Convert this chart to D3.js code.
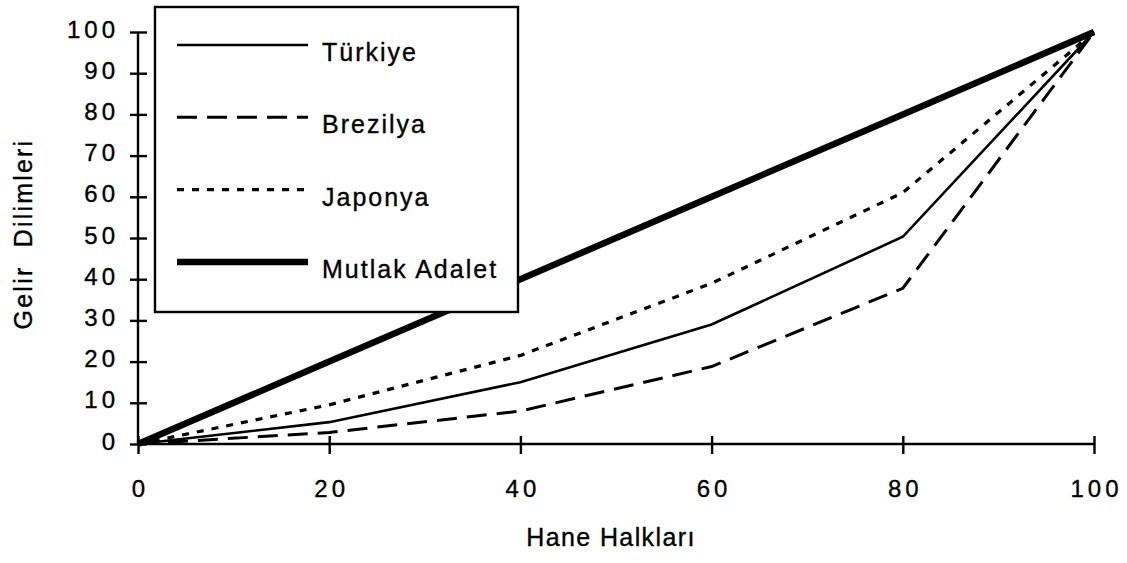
<!DOCTYPE html>
<html>
<head>
<meta charset="utf-8">
<script src="https://cdn.jsdelivr.net/npm/d3@7"></script>
<style>
  body { margin: 0; background: #fff; }
  text { font-family: "Liberation Sans", Arial, sans-serif; fill: #000; stroke: #000; stroke-width: 0.35px; }
</style>
</head>
<body>
<div id="vis"></div>
<script>
// veriler
var haneHalklari = [0, 20, 40, 60, 80, 100];
var turkiye  = [0, 5.3, 15, 29, 50.3, 100];
var brezilya = [0, 2.8, 8, 18.8, 37.8, 100];
var japonya  = [0, 9.5, 21.5, 39, 61, 100];
var mutlak   = [0, 20, 40, 60, 80, 100];
var seriler  = ["Türkiye", "Brezilya", "Japonya", "Mutlak Adalet"];
var xTicks = [0, 20, 40, 60, 80, 100];
var yTicks = [0, 10, 20, 30, 40, 50, 60, 70, 80, 90, 100];

var degerler = [turkiye, brezilya, japonya, mutlak];
var stil = [
  {w: 2.6, dash: null},
  {w: 3, dash: "20,10"},
  {w: 3.2, dash: "7,8"},
  {w: 6.5, dash: null}
];

var W = 1127, H = 563;
var x0 = 138, x1 = 1094, y0 = 444, y1 = 32;

var svg = d3.select("div#vis").append("svg")
  .attr("width", W)
  .attr("height", H);

var x = d3.scaleLinear().domain([0, 100]).range([x0, x1]);
var y = d3.scaleLinear().domain([0, 100]).range([y0, y1]);

var line = d3.line()
  .x(function(d, i) { return x(haneHalklari[i]); })
  .y(function(d) { return y(d); });

// seri cizgileri
svg.selectAll("path.seri").data(degerler).enter().append("path")
  .attr("class", "seri")
  .attr("d", line)
  .attr("fill", "none")
  .attr("stroke", "#000")
  .attr("stroke-width", function(d, i) { return stil[i].w; })
  .attr("stroke-dasharray", function(d, i) { return stil[i].dash; })
  .attr("stroke-linejoin", "miter");

// eksenler
var xAx = svg.append("g")
  .attr("transform", "translate(0," + y0 + ")")
  .call(d3.axisBottom(x).tickValues(xTicks).tickSize(0).tickPadding(0).tickFormat(""));
var yAx = svg.append("g")
  .attr("transform", "translate(" + x0 + ",0)")
  .call(d3.axisLeft(y).tickValues(yTicks).tickSize(0).tickPadding(0).tickFormat(""));

xAx.select(".domain").attr("stroke-width", 2.4).attr("d", "M" + x0 + ",0H" + x1);
yAx.select(".domain").attr("stroke-width", 2.4).attr("d", "M0," + y1 + "V" + y0);
xAx.selectAll(".tick line").attr("y1", -8).attr("y2", 10).attr("stroke-width", 2.4);
yAx.selectAll(".tick line").attr("x1", -8).attr("x2", 9).attr("stroke-width", 2.4);

xAx.selectAll(".tick").append("text")
  .attr("y", 53)
  .attr("text-anchor", "middle")
  .attr("dx", 2)
  .style("font-size", "24px")
  .style("letter-spacing", "4px")
  .text(function(d) { return d; });

yAx.selectAll(".tick").append("text")
  .attr("x", -19)
  .attr("y", 5)
  .attr("text-anchor", "end")
  .style("font-size", "24px")
  .style("letter-spacing", "4px")
  .text(function(d) { return d; });

// eksen basliklari
svg.append("text")
  .attr("x", 611).attr("y", 546)
  .attr("text-anchor", "middle")
  .style("font-size", "25px")
  .style("letter-spacing", "1.4px")
  .text("Hane Halkları");

svg.append("text")
  .attr("transform", "translate(32,234) rotate(-90)")
  .attr("text-anchor", "middle")
  .style("font-size", "25px")
  .style("letter-spacing", "2.2px")
  .style("white-space", "pre")
  .text("Gelir  Dilimleri");

// lejant
var lg = svg.append("g");
lg.append("rect")
  .attr("x", 155).attr("y", 7)
  .attr("width", 363).attr("height", 305)
  .attr("fill", "#fff")
  .attr("stroke", "#000")
  .attr("stroke-width", 2.4);

var ly = d3.scalePoint().domain(seriler).range([45, 262]);

lg.selectAll("line.lg").data(seriler).enter().append("line")
  .attr("class", "lg")
  .attr("x1", 177).attr("x2", 308)
  .attr("y1", function(d) { return ly(d); })
  .attr("y2", function(d) { return ly(d); })
  .attr("stroke", "#000")
  .attr("stroke-width", function(d, i) { return stil[i].w; })
  .attr("stroke-dasharray", function(d, i) { return stil[i].dash; });

lg.selectAll("text.lg").data(seriler).enter().append("text")
  .attr("class", "lg")
  .attr("x", 322)
  .attr("y", function(d) { return ly(d) + 16; })
  .style("font-size", "25px")
  .style("letter-spacing", "2px")
  .text(function(d) { return d; });
</script>
</body>
</html>
